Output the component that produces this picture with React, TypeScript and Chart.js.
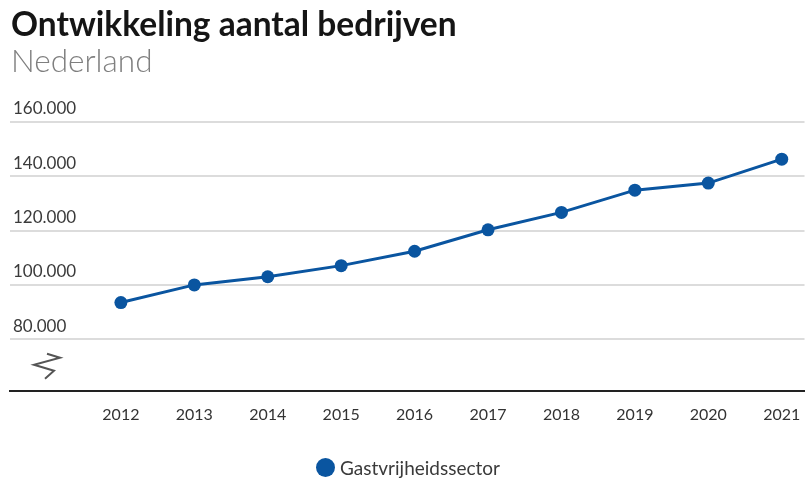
import React, { useEffect, useRef } from "react";
import { Chart, registerables } from "chart.js";

Chart.register(...registerables);

const years: number[] = [2012, 2013, 2014, 2015, 2016, 2017, 2018, 2019, 2020, 2021];
const bedrijven: number[] = [93500, 100000, 103000, 107100, 112400, 120300, 126700, 134900, 137500, 146300];
const yTicks: number[] = [80000, 100000, 120000, 140000, 160000];
const seriesLabel = "Gastvrijheidssector";
const title = "Ontwikkeling aantal bedrijven";
const subtitle = "Nederland";

const BLUE = "#0a55a0";
const FONT = "Lato, 'Open Sans', sans-serif";

function fmt(v: number): string {
  return String(Math.round(v)).replace(/\B(?=(\d{3})+(?!\d))/g, ".");
}

const breakPlugin = {
  id: "axisBreak",
  afterDraw(chart: any) {
    const ctx = chart.ctx;
    const left = chart.chartArea.left;
    const bottom = chart.chartArea.bottom;
    ctx.save();
    ctx.strokeStyle = "#555";
    ctx.lineWidth = 2;
    ctx.lineJoin = "miter";
    ctx.beginPath();
    const pts = [
      [37, -37],
      [50, -33],
      [24, -26],
      [44, -20],
      [35, -12],
    ];
    pts.forEach((p, i) => {
      const x = left + p[0];
      const y = bottom + p[1];
      if (i === 0) ctx.moveTo(x, y);
      else ctx.lineTo(x, y);
    });
    ctx.stroke();
    ctx.restore();
  },
};

export default function App() {
  const ref = useRef<HTMLCanvasElement | null>(null);
  useEffect(() => {
    document.body.style.margin = "0";
    const chart = new Chart(ref.current as HTMLCanvasElement, {
      type: "line",
      data: {
        datasets: [
          {
            label: seriesLabel,
            data: years.map((y, i) => ({ x: y, y: bedrijven[i] })),
            borderColor: BLUE,
            backgroundColor: BLUE,
            borderWidth: 3,
            pointRadius: 6.5,
            pointBackgroundColor: BLUE,
            pointBorderColor: BLUE,
            pointBorderWidth: 0,
            tension: 0,
          },
        ],
      },
      options: {
        animation: false,
        responsive: false,
        maintainAspectRatio: false,
        layout: { padding: { top: 122, left: 4, right: 0, bottom: 53 } },
        plugins: {
          tooltip: { enabled: false },
          legend: { display: false },
        },
        scales: {
          x: {
            type: "linear",
            min: 2010.49,
            max: 2021.31,
            afterBuildTicks: (scale: any) => {
              scale.ticks = years.map((v) => ({ value: v }));
            },
            grid: { display: true, drawOnChartArea: false, drawTicks: true, tickLength: 12, tickColor: "rgba(0,0,0,0)" },
            border: { display: true, color: "#222", width: 2 },
            ticks: {
              color: "#333",
              padding: 2,
              maxRotation: 0,
              autoSkip: false,
              font: { family: FONT, size: 16 },
              callback: (v: any) => String(v),
            },
          },
          y: {
            min: 61000,
            max: 160000,
            afterBuildTicks: (scale: any) => {
              scale.ticks = yTicks.map((v) => ({ value: v }));
            },
            grid: { color: "#dcdcdc", lineWidth: 2, drawTicks: false },
            border: { display: false },
            ticks: {
              mirror: true,
              padding: 3,
              labelOffset: -13,
              color: "#3a3a3a",
              font: { family: FONT, size: 17 },
              callback: (v: any) => fmt(Number(v)),
            },
          },
        },
      },
      plugins: [breakPlugin],
    } as any);
    return () => chart.destroy();
  }, []);

  return (
    <div style={{ position: "absolute", left: 0, top: 0, width: 811, height: 479, background: "#fff" }}>
      <canvas ref={ref} width={811} height={479} style={{ position: "absolute", left: 0, top: 0 }} />
      <div
        style={{
          position: "absolute",
          left: 11,
          top: 3,
          fontFamily: FONT,
          fontWeight: 700,
          fontSize: 33.5,
          lineHeight: "40px",
          color: "#151515",
          whiteSpace: "nowrap",
        }}
      >
        {title}
      </div>
      <div
        style={{
          position: "absolute",
          left: 11,
          top: 41.5,
          fontFamily: FONT,
          fontWeight: 300,
          fontSize: 31.5,
          lineHeight: "37.8px",
          color: "#7f7f7f",
          whiteSpace: "nowrap",
        }}
      >
        {subtitle}
      </div>
      <div
        style={{
          position: "absolute",
          left: 316,
          top: 455,
          height: 24,
          display: "flex",
          alignItems: "center",
          fontFamily: FONT,
          fontSize: 19,
          color: "#3a3a3a",
          whiteSpace: "nowrap",
        }}
      >
        <span
          style={{
            display: "inline-block",
            width: 19,
            height: 19,
            borderRadius: "50%",
            background: BLUE,
            marginRight: 5,
          }}
        />
        <span>{seriesLabel}</span>
      </div>
    </div>
  );
}
